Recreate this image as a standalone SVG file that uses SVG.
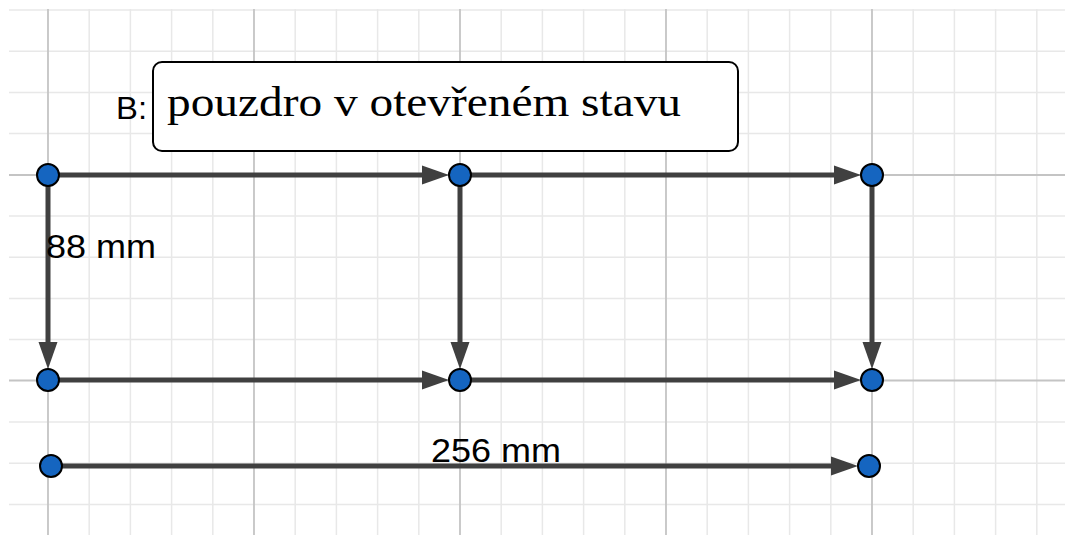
<svg xmlns="http://www.w3.org/2000/svg" width="1065" height="535" viewBox="0 0 1065 535">
<style>
.minor{stroke:#e8e8e8;stroke-width:1.5}
.major{stroke:#c4c4c4;stroke-width:1.8}
.edge{stroke:#404040;stroke-width:5;fill:none;marker-end:url(#ah)}
.node{fill:#1565c0;stroke:#000;stroke-width:2}
.lbl{font-family:"Liberation Sans",Arial,sans-serif;font-size:33px;fill:#000}
.cap{font-family:"Liberation Serif","Times New Roman",serif;font-size:43px;fill:#000}
</style>
<defs>
<marker id="ah" markerUnits="userSpaceOnUse" markerWidth="28" markerHeight="20" refX="0" refY="10" orient="auto" overflow="visible">
<path d="M0 0.5 L27 10 L0 19.5 Z" fill="#404040"/>
</marker>
</defs>
<rect width="1065" height="535" fill="#fff"/>
<g id="grid">
<g class="minor">
<line x1="89.2" y1="9" x2="89.2" y2="535"/><line x1="130.4" y1="9" x2="130.4" y2="535"/><line x1="171.6" y1="9" x2="171.6" y2="535"/><line x1="212.8" y1="9" x2="212.8" y2="535"/>
<line x1="295.2" y1="9" x2="295.2" y2="535"/><line x1="336.4" y1="9" x2="336.4" y2="535"/><line x1="377.6" y1="9" x2="377.6" y2="535"/><line x1="418.8" y1="9" x2="418.8" y2="535"/>
<line x1="501.2" y1="9" x2="501.2" y2="535"/><line x1="542.4" y1="9" x2="542.4" y2="535"/><line x1="583.6" y1="9" x2="583.6" y2="535"/><line x1="624.8" y1="9" x2="624.8" y2="535"/>
<line x1="707.2" y1="9" x2="707.2" y2="535"/><line x1="748.4" y1="9" x2="748.4" y2="535"/><line x1="789.6" y1="9" x2="789.6" y2="535"/><line x1="830.8" y1="9" x2="830.8" y2="535"/>
<line x1="913.2" y1="9" x2="913.2" y2="535"/><line x1="954.4" y1="9" x2="954.4" y2="535"/><line x1="995.6" y1="9" x2="995.6" y2="535"/><line x1="1036.8" y1="9" x2="1036.8" y2="535"/>
<line x1="9" y1="10" x2="1065" y2="10"/><line x1="9" y1="51.2" x2="1065" y2="51.2"/><line x1="9" y1="92.4" x2="1065" y2="92.4"/><line x1="9" y1="133.6" x2="1065" y2="133.6"/>
<line x1="9" y1="216" x2="1065" y2="216"/><line x1="9" y1="257.2" x2="1065" y2="257.2"/><line x1="9" y1="298.4" x2="1065" y2="298.4"/><line x1="9" y1="339.6" x2="1065" y2="339.6"/>
<line x1="9" y1="422" x2="1065" y2="422"/><line x1="9" y1="463.2" x2="1065" y2="463.2"/><line x1="9" y1="504.4" x2="1065" y2="504.4"/>
</g>
<g class="major">
<line x1="48" y1="9" x2="48" y2="535"/><line x1="254" y1="9" x2="254" y2="535"/><line x1="460" y1="9" x2="460" y2="535"/><line x1="666" y1="9" x2="666" y2="535"/><line x1="872" y1="9" x2="872" y2="535"/>
<line x1="9" y1="175" x2="1065" y2="175"/><line x1="9" y1="380.5" x2="1065" y2="380.5"/>
</g>
</g>
<g id="connectors">
<path class="edge" d="M48 175 L422 175"/>
<path class="edge" d="M460 175 L834 175"/>
<path class="edge" d="M48 175 L48 342"/>
<path class="edge" d="M460 175 L460 342"/>
<path class="edge" d="M872 175 L872 342"/>
<path class="edge" d="M48 380 L422 380"/>
<path class="edge" d="M460 380 L834 380"/>
<path class="edge" d="M51 466 L831 466"/>
</g>
<g id="caption">
<text class="lbl" x="116" y="119" textLength="31" lengthAdjust="spacingAndGlyphs" style="font-size:32px">B:</text>
<rect x="153" y="62" width="585" height="89" rx="9" fill="#fff" stroke="#000" stroke-width="2"/>
<text class="cap" x="167" y="116" textLength="514" lengthAdjust="spacingAndGlyphs">pouzdro v otevřeném stavu</text>
</g>
<g id="n1"><circle class="node" cx="48" cy="175" r="11"/></g>
<g id="n2"><circle class="node" cx="460" cy="175" r="11"/></g>
<g id="n3"><circle class="node" cx="872" cy="175" r="11"/></g>
<g id="n4"><circle class="node" cx="48" cy="380" r="11"/></g>
<g id="n5"><circle class="node" cx="460" cy="380" r="11"/></g>
<g id="n6"><circle class="node" cx="872" cy="380" r="11"/></g>
<g id="n7"><circle class="node" cx="51" cy="466" r="11"/></g>
<g id="n8"><circle class="node" cx="869" cy="466" r="11"/></g>
<g id="labels">
<text class="lbl" x="46" y="258" textLength="110" lengthAdjust="spacingAndGlyphs">88 mm</text>
<text class="lbl" x="431" y="462" textLength="130" lengthAdjust="spacingAndGlyphs">256 mm</text>
</g>
</svg>
